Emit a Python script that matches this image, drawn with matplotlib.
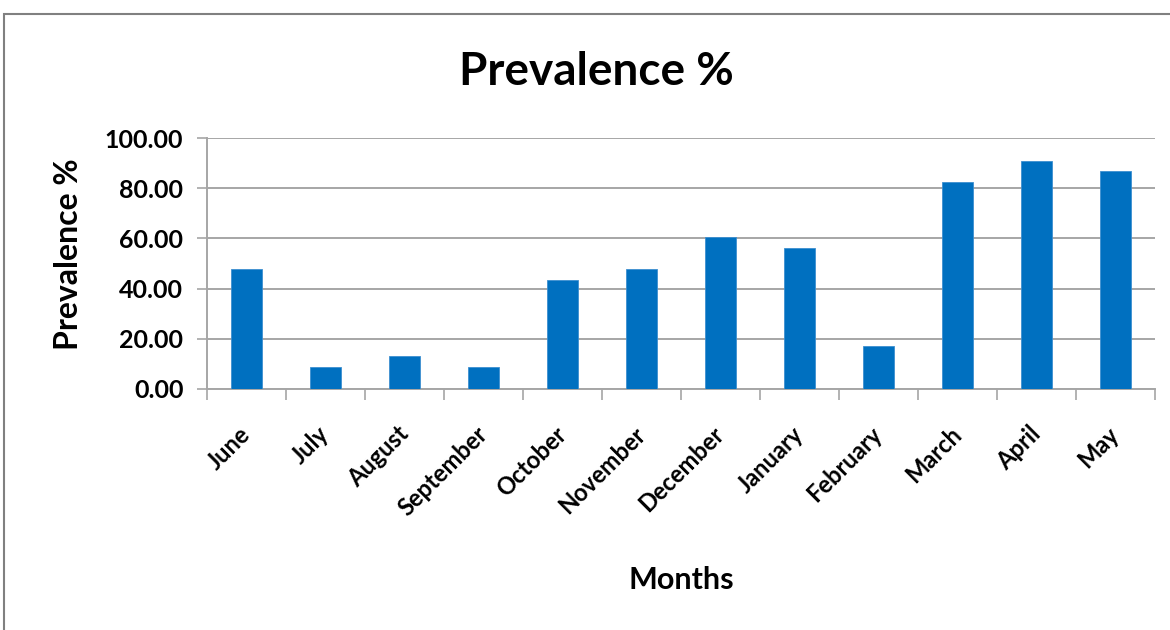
import matplotlib.pyplot as plt
from matplotlib.patches import Rectangle

months = ["June", "July", "August", "September", "October", "November",
          "December", "January", "February", "March", "April", "May"]
prevalence = [47.9, 8.8, 12.9, 8.8, 43.3, 47.9, 60.6, 56.1, 17.1, 82.5, 90.9, 86.9]
yticks = [0, 20, 40, 60, 80, 100]

plt.rcParams['font.family'] = ['Lato', 'DejaVu Sans']
plt.rcParams['font.weight'] = 'bold'

fig = plt.figure(figsize=(11.7, 6.3), dpi=100)
ax = fig.add_axes([207 / 1170, 1 - 388.7 / 630, (1155 - 207) / 1170, (388.7 - 138.3) / 630])

x = list(range(len(months)))
ax.bar(x, prevalence, width=0.4, color='#0070C0', edgecolor='#3D8FD0', linewidth=0.6, zorder=3)

ax.set_xlim(-0.5, len(months) - 0.5)
ax.set_ylim(0, 100)
ax.set_yticks(yticks)
ax.set_yticklabels([f"{v:.2f}" for v in yticks], fontsize=18, fontweight='bold')
ax.yaxis.grid(True, color='#A6A6A6', linewidth=1.4, zorder=0)

# ticks sit between the categories
ax.set_xticks([i - 0.5 for i in range(len(months) + 1)], minor=False)
ax.set_xticklabels([])
ax.set_xticks(x, minor=True)
ax.set_xticklabels(months, minor=True, rotation=45, ha='right', va='center',
                   rotation_mode='anchor', fontsize=17, fontweight='bold')
ax.tick_params(axis='x', which='major', length=8, width=1.2, color='#A6A6A6')
ax.tick_params(axis='x', which='minor', length=0, pad=30)
ax.tick_params(axis='y', length=7, width=1.2, color='#A6A6A6', pad=10)

for side in ['top', 'right']:
    ax.spines[side].set_visible(False)
for side in ['left', 'bottom']:
    ax.spines[side].set_color('#A6A6A6')
    ax.spines[side].set_linewidth(1.4)

fig.text(68 / 1170, 1 - 254 / 630, "Prevalence %", rotation=90, ha='center', va='center',
         fontsize=23, fontweight='bold')
fig.text(681 / 1170, 1 - 580 / 630, "Months", ha='center', va='center',
         fontsize=22, fontweight='bold')
fig.text(596 / 1170, 1 - 72 / 630, "Prevalence %", ha='center', va='center',
         fontsize=33, fontweight='bold')

# outer chart frame
fig.patches.append(Rectangle((4 / 1170, -0.1), 1.2, 1 - 14 / 630 + 0.1,
                             transform=fig.transFigure, fill=False,
                             edgecolor='#808080', linewidth=1.5))

fig.savefig("out.png", dpi=100)
